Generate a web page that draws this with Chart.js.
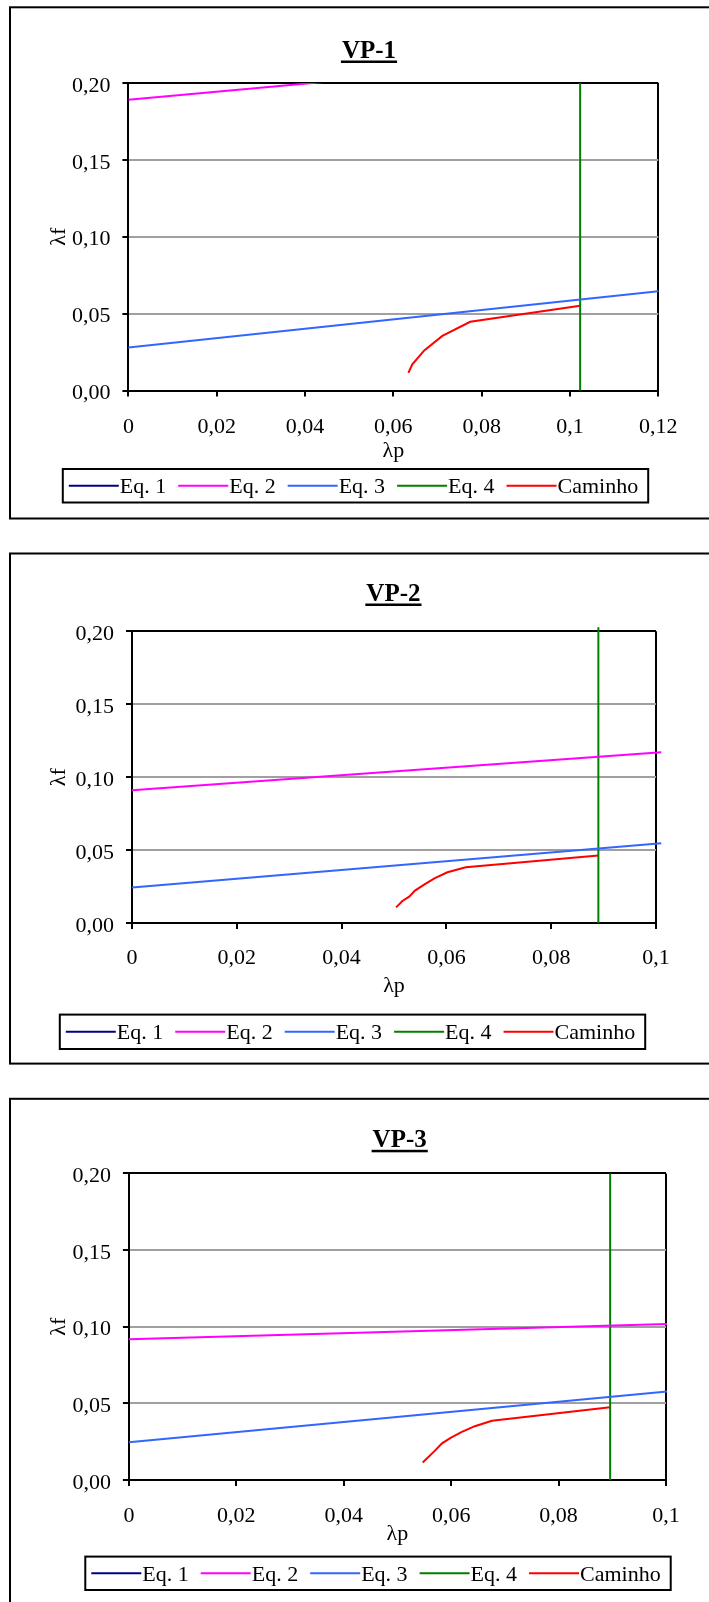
<!DOCTYPE html>
<html>
<head>
<meta charset="utf-8">
<script src="https://cdn.jsdelivr.net/npm/chart.js@4.4.0/dist/chart.umd.min.js"></script>
<style>
body { margin: 0; background: #fff; }
canvas { position: absolute; left: 0; }
</style>
</head>
<body>
<canvas id="vp1" width="709" height="535" style="top:0px"></canvas>
<canvas id="vp2" width="709" height="545" style="top:535px"></canvas>
<canvas id="vp3" width="709" height="522" style="top:1080px"></canvas>
<script>
const seriesNames = ['Eq. 1', 'Eq. 2', 'Eq. 3', 'Eq. 4', 'Caminho'];
const seriesColors = ['#000080', '#ff00ff', '#3366ff', '#008000', '#ff0000'];

const yTickLabels = ['0,00', '0,05', '0,10', '0,15', '0,20'];
const xTickLabelsVp1 = ['0', '0,02', '0,04', '0,06', '0,08', '0,1', '0,12'];
const xTickLabelsVp23 = ['0', '0,02', '0,04', '0,06', '0,08', '0,1'];

// VP-1
const vp1Eq1X = [], vp1Eq1Y = [];
const vp1Eq2X = [0, 0.12], vp1Eq2Y = [0.189, 0.2205];
const vp1Eq3X = [0, 0.12], vp1Eq3Y = [0.0279, 0.0645];
const vp1Eq4X = [0.1023, 0.1023], vp1Eq4Y = [0, 0.2];
const vp1CamX = [0.0634, 0.0643, 0.0670, 0.0711, 0.0774, 0.1023];
const vp1CamY = [0.0115, 0.0170, 0.0261, 0.0355, 0.0447, 0.0551];

// VP-2
const vp2Eq1X = [], vp2Eq1Y = [];
const vp2Eq2X = [0, 0.101], vp2Eq2Y = [0.0911, 0.117];
const vp2Eq3X = [0, 0.101], vp2Eq3Y = [0.0243, 0.0547];
const vp2Eq4X = [0.089, 0.089], vp2Eq4Y = [0, 0.2028];
const vp2CamX = [0.0504, 0.0516, 0.0529, 0.0540, 0.0559, 0.0578, 0.0602, 0.0637, 0.0890];
const vp2CamY = [0.0107, 0.0151, 0.0181, 0.0222, 0.0267, 0.0308, 0.0348, 0.0382, 0.0463];

// VP-3
const vp3Eq1X = [], vp3Eq1Y = [];
const vp3Eq2X = [0, 0.1002], vp3Eq2Y = [0.0918, 0.1017];
const vp3Eq3X = [0, 0.1002], vp3Eq3Y = [0.0247, 0.0578];
const vp3Eq4X = [0.0896, 0.0896], vp3Eq4Y = [0, 0.2];
const vp3CamX = [0.0547, 0.0568, 0.0583, 0.0599, 0.0619, 0.0644, 0.0676, 0.0896];
const vp3CamY = [0.0114, 0.0185, 0.0239, 0.0275, 0.0312, 0.0351, 0.0387, 0.0475];

const serif = "'Liberation Serif', 'Times New Roman', serif";
Chart.defaults.font.family = serif;
Chart.defaults.color = '#000';

function pts(xs, ys) {
    return xs.map((x, i) => ({ x: x, y: ys[i] }));
}

// outer frame, underlined title and the boxed legend
const framePlugin = {
    id: 'frame',
    afterDraw(chart, args, o) {
        const ctx = chart.ctx;
        ctx.save();
        ctx.strokeStyle = '#000';
        ctx.lineWidth = 2;
        ctx.strokeRect(10, o.boxTop, 760, o.boxBottom - o.boxTop);

        ctx.font = 'bold 25px ' + serif;
        ctx.fillStyle = '#000';
        ctx.textAlign = 'center';
        ctx.textBaseline = 'alphabetic';
        ctx.fillText(o.title, o.titleX, o.titleBase);
        const tw = ctx.measureText(o.title).width + 2;
        ctx.fillRect(o.titleX - tw / 2, o.titleBase + 2.5, tw, 2.5);

        ctx.font = '22px ' + serif;
        const items = chart.data.datasets.map(ds => ({ text: ds.label, color: ds.borderColor, w: ctx.measureText(ds.label).width }));
        let total = 6 + 10;
        items.forEach((it, i) => { total += 50 + 1 + it.w + (i > 0 ? 12 : 0); });
        const left = o.legendX - total / 2;
        const midY = (o.legendTop + o.legendBottom) / 2;
        ctx.strokeRect(left, o.legendTop, total, o.legendBottom - o.legendTop);
        let x = left + 6;
        ctx.textAlign = 'left';
        ctx.textBaseline = 'middle';
        items.forEach(it => {
            ctx.strokeStyle = it.color;
            ctx.beginPath();
            ctx.moveTo(x, midY);
            ctx.lineTo(x + 50, midY);
            ctx.stroke();
            ctx.fillStyle = '#000';
            ctx.fillText(it.text, x + 51, midY + 1.5);
            x += 50 + 1 + it.w + 12;
        });
        ctx.restore();
    }
};

function createVpChart(id, title, series, xMax, xLabels, L) {
    const canvas = document.getElementById(id);
    const H = canvas.height;
    const edgeColor = (value, max, other) => (Math.abs(value) < 1e-9 || Math.abs(value - max) < 1e-9) ? '#000' : other;

    new Chart(canvas, {
        type: 'line',
        data: {
            datasets: series.map((s, i) => ({
                label: seriesNames[i],
                data: pts(s[0], s[1]),
                borderColor: seriesColors[i],
                backgroundColor: seriesColors[i],
                borderWidth: 2,
                pointRadius: 0,
                fill: false,
                tension: 0,
                clip: (i === 1 && id === 'vp1') ? 0 : L.clip
            }))
        },
        options: {
            responsive: false,
            animation: false,
            layout: {
                padding: { left: 0, top: L.plotTop, right: 709 - L.plotRight, bottom: H - L.plotBottom - 80 }
            },
            plugins: {
                legend: { display: false },
                title: { display: false },
                tooltip: { enabled: false },
                frame: {
                    title: title, titleX: L.titleX, titleBase: L.titleBase,
                    boxTop: L.boxTop, boxBottom: L.boxBottom,
                    legendX: L.legendX, legendTop: L.legendTop, legendBottom: L.legendBottom
                }
            },
            scales: {
                x: {
                    type: 'linear',
                    min: 0,
                    max: xMax,
                    ticks: {
                        stepSize: 0.02,
                        padding: L.tickPad,
                        maxRotation: 0,
                        autoSkip: false,
                        font: { size: 22 },
                        callback: (v, i) => xLabels[i]
                    },
                    grid: {
                        color: c => edgeColor(c.tick.value, xMax, 'rgba(0,0,0,0)'),
                        lineWidth: 2,
                        tickLength: 6,
                        tickColor: '#000'
                    },
                    border: { color: '#000', width: 2 },
                    title: {
                        display: true,
                        text: 'λp',
                        font: { size: 22 },
                        padding: { top: 0, bottom: 80 - 13.2 - L.xTitleDist }
                    },
                    afterFit: s => { s.height = 80; }
                },
                y: {
                    min: 0,
                    max: 0.2,
                    ticks: {
                        stepSize: 0.05,
                        padding: 12,
                        labelOffset: 3,
                        font: { size: 22 },
                        callback: (v, i) => yTickLabels[i]
                    },
                    grid: {
                        color: c => edgeColor(c.tick.value, 0.2, '#a0a0a0'),
                        lineWidth: 2,
                        tickLength: 6,
                        tickColor: '#000'
                    },
                    border: { color: '#000', width: 2 },
                    title: {
                        display: true,
                        text: 'λf',
                        font: { size: 22 },
                        padding: { top: 46, bottom: 0 }
                    },
                    afterFit: s => { s.width = L.plotLeft; }
                }
            }
        },
        plugins: [framePlugin]
    });
}

createVpChart('vp1', 'VP-1',
    [[vp1Eq1X, vp1Eq1Y], [vp1Eq2X, vp1Eq2Y], [vp1Eq3X, vp1Eq3Y], [vp1Eq4X, vp1Eq4Y], [vp1CamX, vp1CamY]],
    0.12, xTickLabelsVp1,
    { boxTop: 7.3, boxBottom: 518.5, titleX: 369, titleBase: 58,
      plotLeft: 128.4, plotTop: 82.9, plotRight: 658.3, plotBottom: 390.5, xTitleDist: 60.6, tickPad: 18,
      legendX: 355.5, legendTop: 469, legendBottom: 502.5, clip: 1 });

createVpChart('vp2', 'VP-2',
    [[vp2Eq1X, vp2Eq1Y], [vp2Eq2X, vp2Eq2Y], [vp2Eq3X, vp2Eq3Y], [vp2Eq4X, vp2Eq4Y], [vp2CamX, vp2CamY]],
    0.1, xTickLabelsVp23,
    { boxTop: 18.5, boxBottom: 528.6, titleX: 393.4, titleBase: 66,
      plotLeft: 132, plotTop: 96.3, plotRight: 656, plotBottom: 388, xTitleDist: 63.2, tickPad: 16,
      legendX: 352.5, legendTop: 479.6, legendBottom: 514, clip: 8 });

createVpChart('vp3', 'VP-3',
    [[vp3Eq1X, vp3Eq1Y], [vp3Eq2X, vp3Eq2Y], [vp3Eq3X, vp3Eq3Y], [vp3Eq4X, vp3Eq4Y], [vp3CamX, vp3CamY]],
    0.1, xTickLabelsVp23,
    { boxTop: 18.8, boxBottom: 600, titleX: 399.7, titleBase: 67.3,
      plotLeft: 128.9, plotTop: 93.4, plotRight: 666, plotBottom: 400, xTitleDist: 54, tickPad: 17,
      legendX: 378, legendTop: 476.6, legendBottom: 510, clip: 8 });
</script>
</body>
</html>
